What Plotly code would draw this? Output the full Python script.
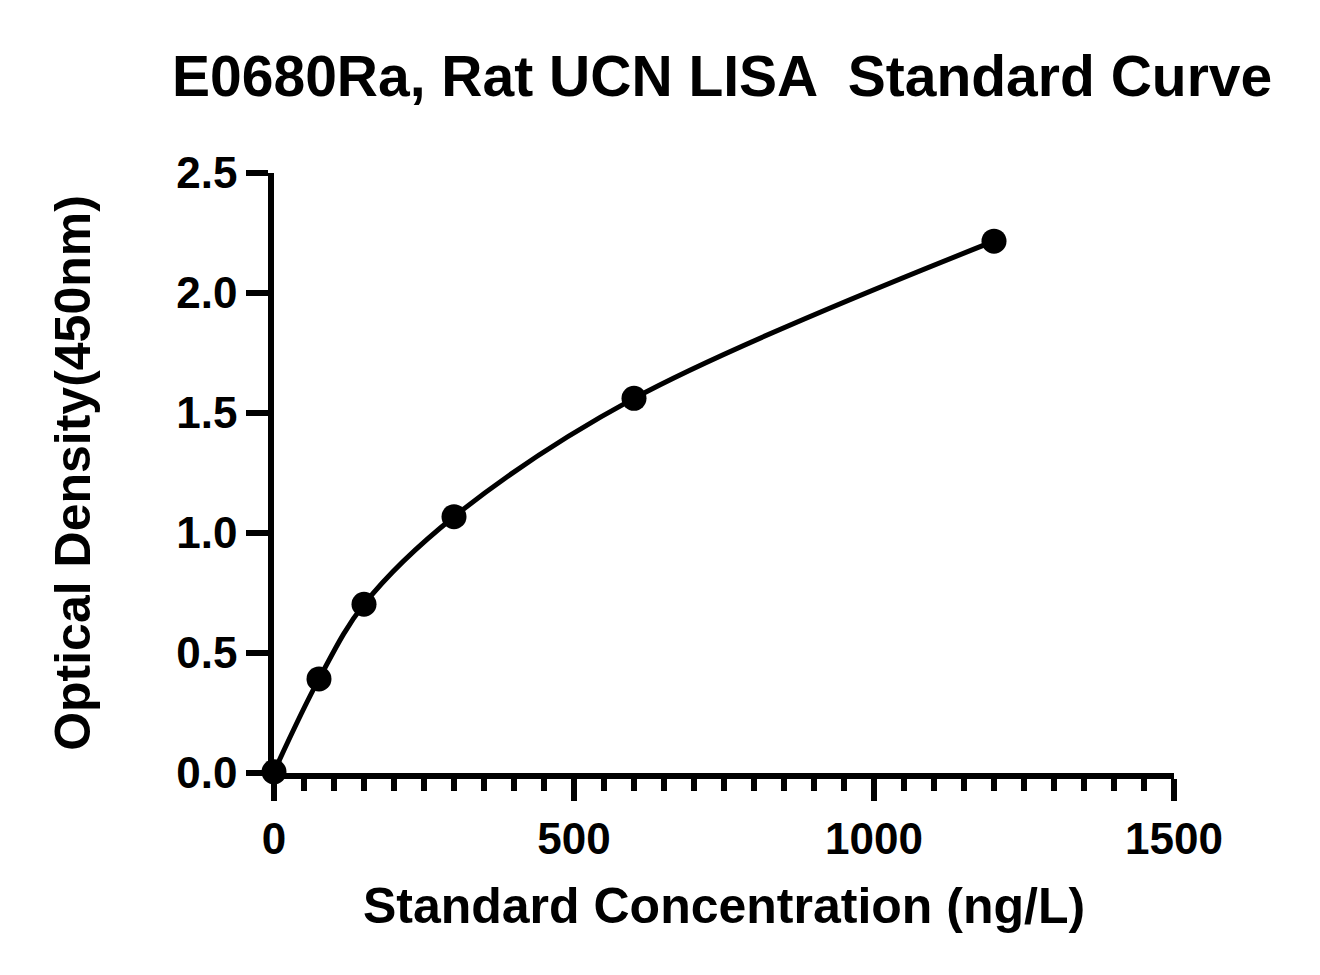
import plotly.graph_objects as go

conc = [0, 75, 150, 300, 600, 1200]
od = [0.005, 0.392, 0.703, 1.068, 1.561, 2.216]

FONT = "Liberation Sans"

fig = go.Figure()

# fitted curve (smoothed through the standards)
fig.add_trace(go.Scatter(x=conc, y=od, mode="lines",
                         line=dict(color="black", width=5, shape="spline", smoothing=1.0),
                         cliponaxis=False, showlegend=False, hoverinfo="skip"))

fig.add_trace(go.Scatter(x=conc, y=od, mode="markers",
                         marker=dict(color="black", size=25),
                         cliponaxis=False, showlegend=False))

fig.update_layout(
    width=1320, height=975,
    paper_bgcolor="white", plot_bgcolor="white",
    margin=dict(l=266, r=154, t=165, b=210),
    font=dict(family=FONT, color="black"),
    title=dict(text="<b>E0680Ra, Rat UCN LISA  Standard Curve</b>",
               x=0.541, xanchor="center", y=0.93, yanchor="middle",
               font=dict(size=57, family=FONT)),
)

fig.update_xaxes(range=[0, 1500], tick0=0, dtick=500,
                 showgrid=False, zeroline=False,
                 showline=True, linecolor="black", linewidth=5.5,
                 ticks="outside", ticklen=22, tickwidth=5.5, tickcolor="black",
                 minor=dict(dtick=50, ticks="outside", ticklen=12, tickwidth=5.5,
                            tickcolor="black", showgrid=False),
                 tickfont=dict(size=44, family=FONT),
                 tickprefix="<b>", ticksuffix="</b>",
                 title=dict(text="<b>Standard Concentration (ng/L)</b>",
                            font=dict(size=50, family=FONT), standoff=28))

fig.update_yaxes(range=[0, 2.5], tick0=0, dtick=0.5, tickformat=".1f",
                 showgrid=False, zeroline=False,
                 showline=True, linecolor="black", linewidth=5.5,
                 ticks="outside", ticklen=22, tickwidth=5.5, tickcolor="black",
                 tickfont=dict(size=44, family=FONT),
                 tickprefix="<b>", ticksuffix="</b>",
                 title=dict(text="<b>Optical Density(450nm)</b>",
                            font=dict(size=50, family=FONT), standoff=72))

fig.write_html("out.html")
